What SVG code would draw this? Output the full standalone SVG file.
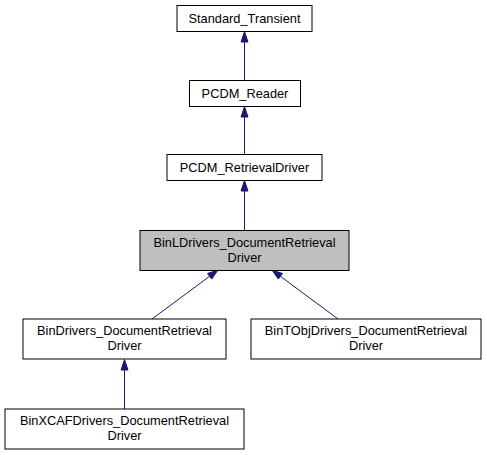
<svg xmlns="http://www.w3.org/2000/svg" width="487" height="455" viewBox="0 0 487 455">
<style>
.box{fill:#ffffff;stroke:#000000;stroke-width:1}
.cur{fill:#bfbfbf;stroke:#000000;stroke-width:1}
.t{font-family:"Liberation Sans",Arial,sans-serif;font-size:12.8px;fill:#000000;text-anchor:middle}
.e{stroke:#191970;stroke-width:1;fill:none}
.ah{fill:#191970;stroke:#191970;stroke-width:1}
</style>
<rect width="487" height="455" fill="#ffffff"/>
<g id="connectors">
<line class="e" x1="244.5" y1="80" x2="244.5" y2="42"/>
<polygon class="ah" points="244.5,31.5 241,42 248,42"/>
<line class="e" x1="244.5" y1="154" x2="244.5" y2="117"/>
<polygon class="ah" points="244.5,106.5 241,117 248,117"/>
<line class="e" x1="244.5" y1="230" x2="244.5" y2="191"/>
<polygon class="ah" points="244.5,180.5 241,191 248,191"/>
<line class="e" x1="152" y1="319" x2="209.6" y2="276.3"/>
<polygon class="ah" points="218,270 207.5,273.5 211.7,279.1"/>
<line class="e" x1="338" y1="319" x2="280.4" y2="276.3"/>
<polygon class="ah" points="272,270 282.5,273.5 278.3,279.1"/>
<line class="e" x1="124.5" y1="409" x2="124.5" y2="370"/>
<polygon class="ah" points="124.5,359.5 121,370 128,370"/>
</g>
<g id="Standard_Transient">
<rect class="box" x="177" y="5.5" width="135" height="26"/>
<text class="t" x="244.5" y="22.5">Standard_Transient</text>
</g>
<g id="PCDM_Reader">
<rect class="box" x="189.5" y="80.5" width="111" height="26"/>
<text class="t" x="245" y="97.5">PCDM_Reader</text>
</g>
<g id="PCDM_RetrievalDriver">
<rect class="box" x="167" y="154.5" width="155" height="26"/>
<text class="t" x="244.5" y="171.5">PCDM_RetrievalDriver</text>
</g>
<g id="BinLDrivers_DocumentRetrievalDriver">
<rect class="cur" x="140" y="230.5" width="209" height="40"/>
<text class="t" x="244.5" y="246.5">BinLDrivers_DocumentRetrieval</text>
<text class="t" x="244.5" y="261.5">Driver</text>
</g>
<g id="BinDrivers_DocumentRetrievalDriver">
<rect class="box" x="23" y="319" width="203" height="40"/>
<text class="t" x="124.5" y="335">BinDrivers_DocumentRetrieval</text>
<text class="t" x="124.5" y="350">Driver</text>
</g>
<g id="BinTObjDrivers_DocumentRetrievalDriver">
<rect class="box" x="251" y="319" width="230" height="40"/>
<text class="t" x="366" y="335">BinTObjDrivers_DocumentRetrieval</text>
<text class="t" x="366" y="350">Driver</text>
</g>
<g id="BinXCAFDrivers_DocumentRetrievalDriver">
<rect class="box" x="5" y="409" width="239" height="40"/>
<text class="t" x="124.5" y="425">BinXCAFDrivers_DocumentRetrieval</text>
<text class="t" x="124.5" y="440">Driver</text>
</g>
</svg>
